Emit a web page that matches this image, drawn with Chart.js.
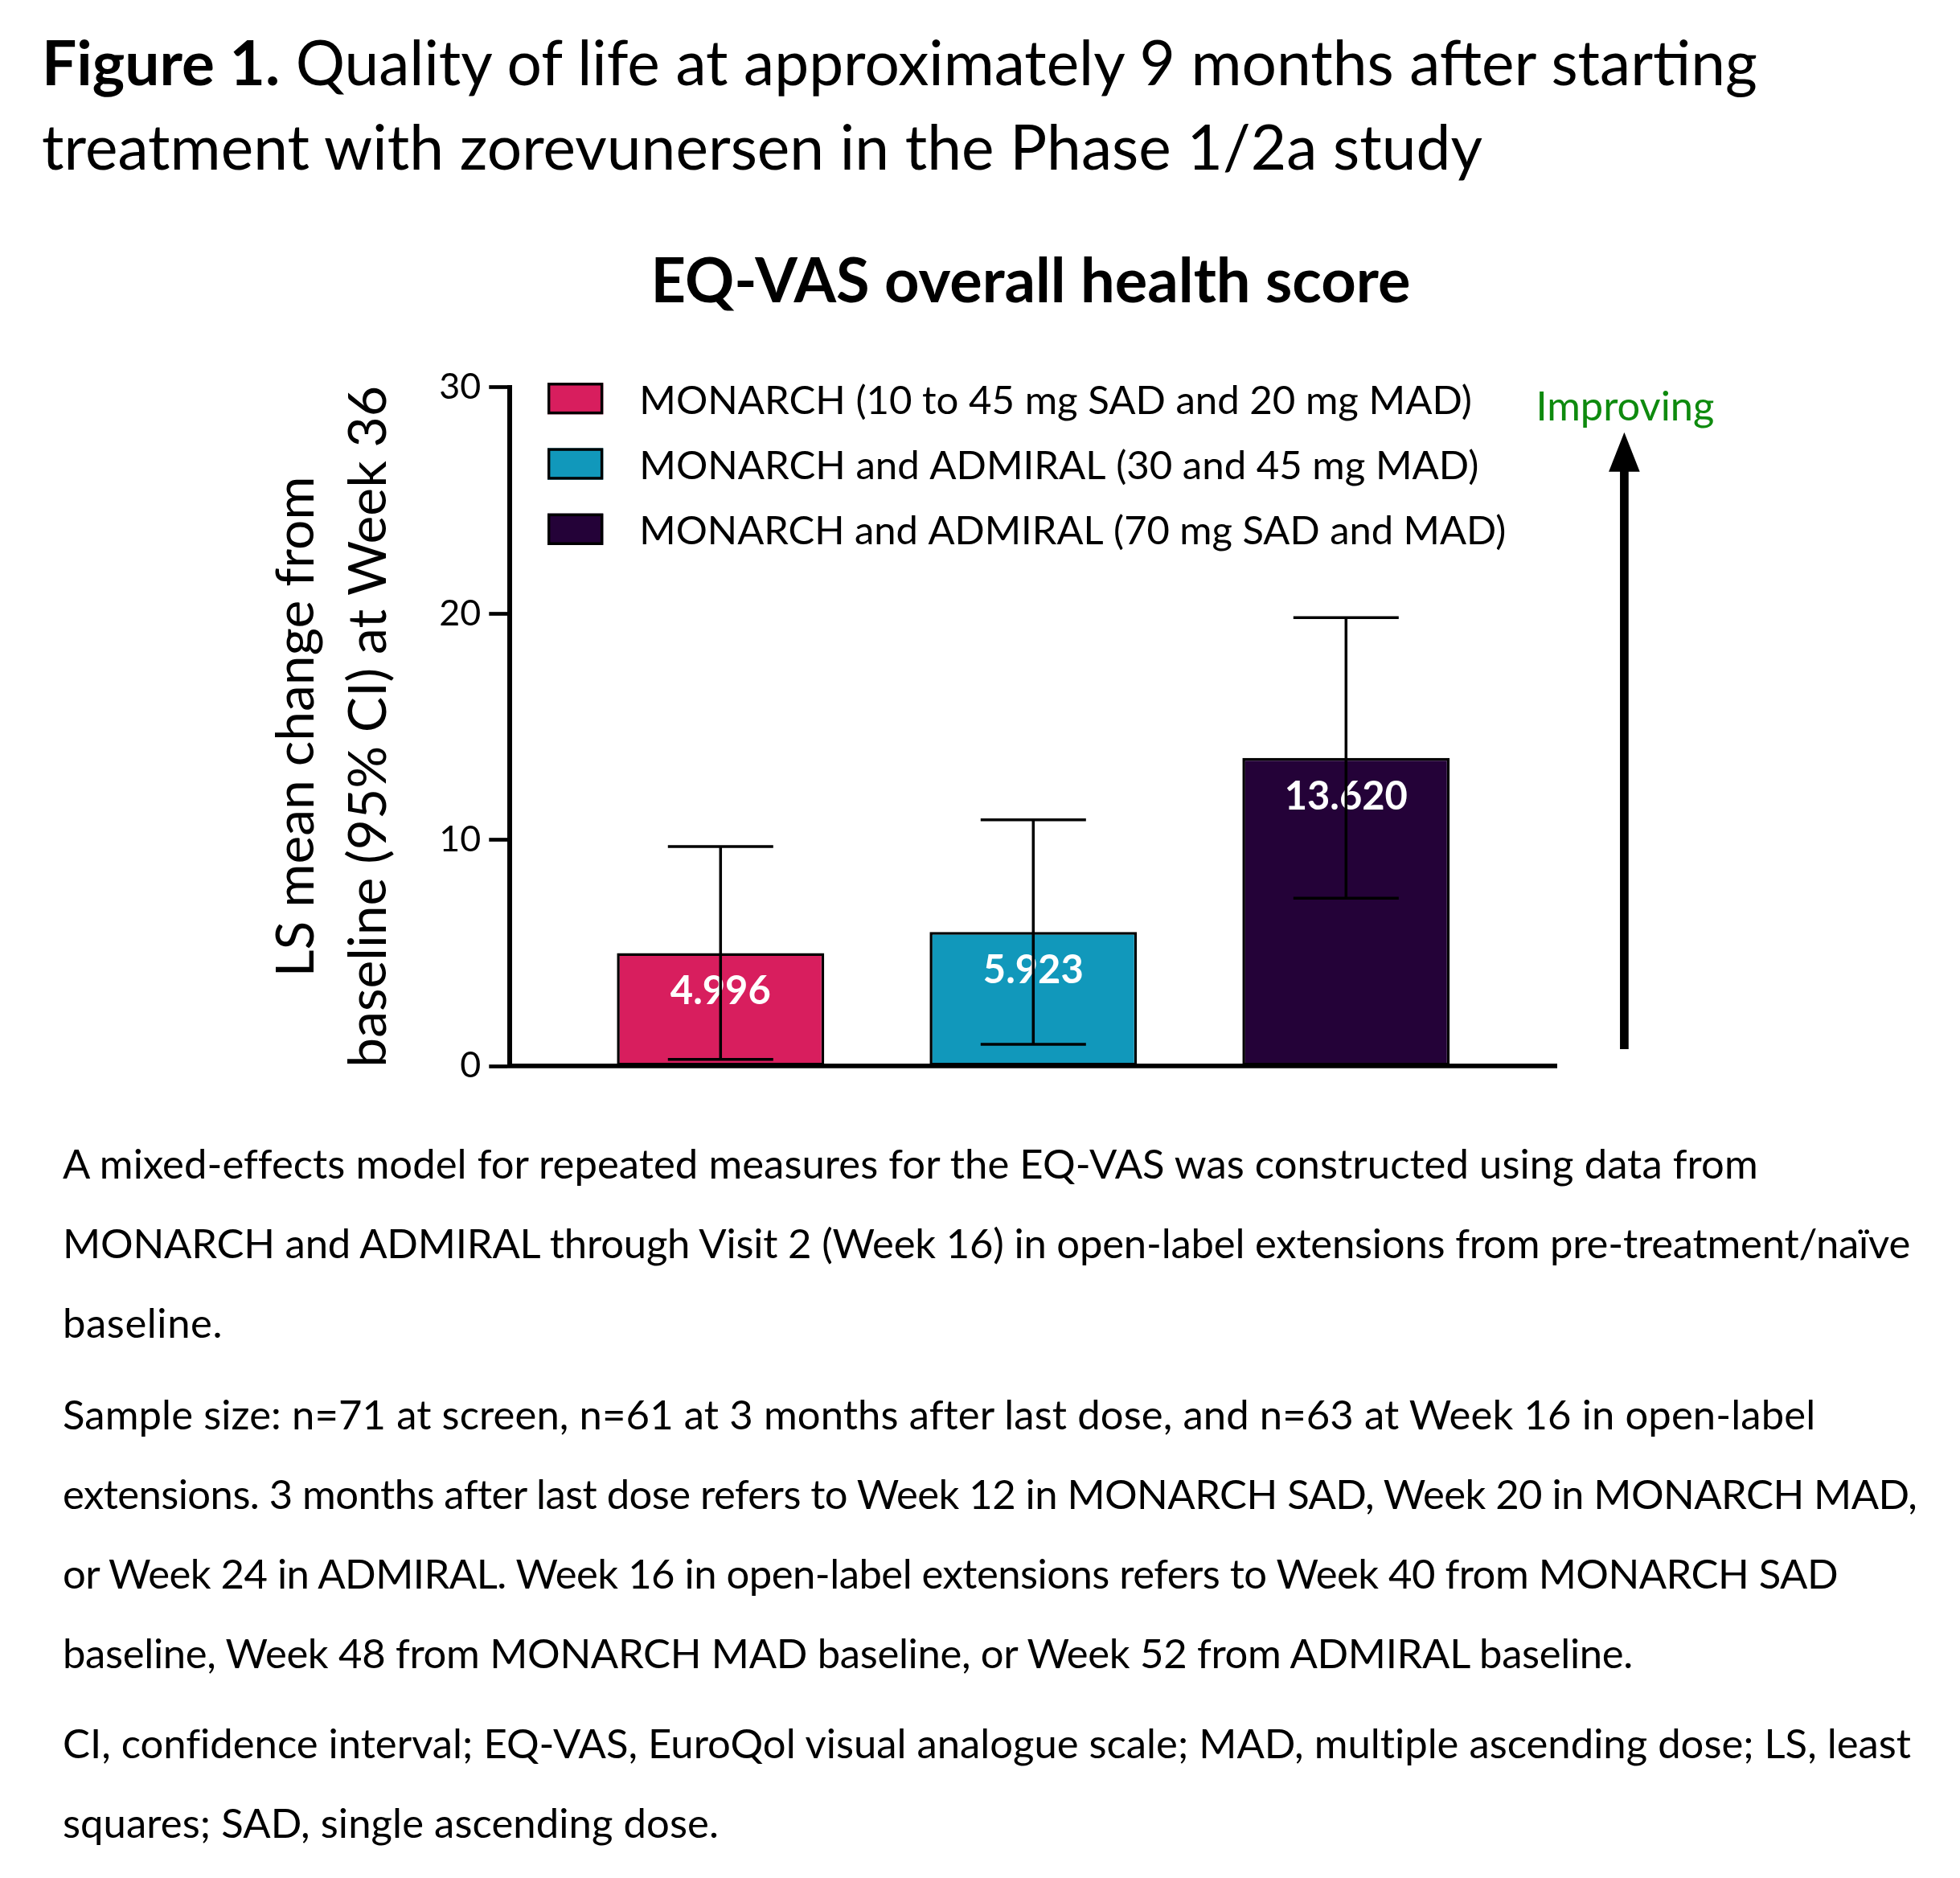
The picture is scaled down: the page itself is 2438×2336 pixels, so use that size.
<!DOCTYPE html>
<html>
<head>
<meta charset="utf-8">
<script src="https://cdn.jsdelivr.net/npm/chart.js@4.4.1/dist/chart.umd.min.js"></script>
<style>
html,body{margin:0;padding:0;background:#fff;}
body{width:2438px;height:2336px;position:relative;overflow:hidden;font-family:Lato,sans-serif;color:#000;}
#c{position:absolute;left:0;top:0;}
.ln{position:absolute;white-space:nowrap;line-height:1;}
</style>
</head>
<body>
<canvas id="c" width="2438" height="2336" style="width:2438px;height:2336px"></canvas>
<script>
// ---------------- data ----------------
const pageTitleBold = 'Figure 1.';
const pageTitleLine1 = ' Quality of life at approximately 9 months after starting';
const pageTitleLine2 = 'treatment with zorevunersen in the Phase 1/2a study';
const chartTitle = 'EQ-VAS overall health score';
const categories = [
  'MONARCH (10 to 45 mg SAD and 20 mg MAD)',
  'MONARCH and ADMIRAL (30 and 45 mg MAD)',
  'MONARCH and ADMIRAL (70 mg SAD and MAD)'
];
const xPositions = [1, 2, 3];
const lsMeans = [4.996, 5.923, 13.620];
const valueLabels = ['4.996', '5.923', '13.620'];
const ciLower = [0.29, 0.96, 7.42];
const ciUpper = [9.70, 10.88, 19.82];
const barColors = ['#D81E5E', '#1198BB', '#240238'];
const yTickValues = [0, 10, 20, 30];
const yAxisTitle = ['LS mean change from', 'baseline (95% CI) at Week 36'];
const directionLabel = 'Improving';
const footnoteP1 = [
  'A mixed-effects model for repeated measures for the EQ-VAS was constructed using data from',
  'MONARCH and ADMIRAL through Visit 2 (Week 16) in open-label extensions from pre-treatment/naïve',
  'baseline.'
];
const footnoteP2 = [
  'Sample size: n=71 at screen, n=61 at 3 months after last dose, and n=63 at Week 16 in open-label',
  'extensions. 3 months after last dose refers to Week 12 in MONARCH SAD, Week 20 in MONARCH MAD,',
  'or Week 24 in ADMIRAL. Week 16 in open-label extensions refers to Week 40 from MONARCH SAD',
  'baseline, Week 48 from MONARCH MAD baseline, or Week 52 from ADMIRAL baseline.'
];
const footnoteP3 = [
  'CI, confidence interval; EQ-VAS, EuroQol visual analogue scale; MAD, multiple ascending dose; LS, least',
  'squares; SAD, single ascending dose.'
];

// ---------------- text helpers ----------------
const FONT = 'Lato';
const mc = document.createElement('canvas').getContext('2d');
function textW(parts, size) {
  let w = 0;
  for (const [t, wt] of parts) { mc.font = wt + ' ' + size + 'px ' + FONT; w += mc.measureText(t).width; }
  return w;
}
function fit(parts, target) { return 100 * target / textW(parts, 100); }
function addLine(parts, x, baseline, size, anchor, targetW) {
  const d = document.createElement('div');
  d.className = 'ln';
  d.style.fontSize = size + 'px';
  d.style.left = x + 'px';
  d.style.top = '0px';
  let n = 0;
  for (const [t, wt] of parts) {
    const s = document.createElement('span');
    s.textContent = t; s.style.fontWeight = wt;
    d.appendChild(s);
    n += t.length;
  }
  const m = document.createElement('span');
  m.style.cssText = 'display:inline-block;width:0;height:0;';
  d.appendChild(m);
  document.body.appendChild(d);
  if (targetW) {
    const w0 = d.getBoundingClientRect().width;
    d.style.letterSpacing = ((targetW - w0) / n) + 'px';
  }
  const by = m.getBoundingClientRect().top;
  d.style.top = (baseline - by) + 'px';
  if (anchor === 'center') {
    const w = d.getBoundingClientRect().width;
    d.style.left = (x - w / 2) + 'px';
  }
}

// page title
const titleSize = fit([[pageTitleBold, 'bold'], [pageTitleLine1, 'normal']], 2141);
addLine([[pageTitleBold, 'bold'], [pageTitleLine1, 'normal']], 52, 106, titleSize);
addLine([[pageTitleLine2, 'normal']], 52, 211, titleSize, null, 1792);
// chart title
const ctSize = fit([[chartTitle, 'bold']], 945);
addLine([[chartTitle, 'bold']], 1282, 376, ctSize, 'center');
// footnotes
const fnSize = fit([[footnoteP1[0], 'normal']], 2107);
const fnBase = [[1466, 1565, 1664], [1778, 1877, 1976, 2075], [2187, 2286]];
const fnWidths = [[2107, 2298, 199], [2179, 2305, 2208, 1953], [2299, 816]];
[footnoteP1, footnoteP2, footnoteP3].forEach((p, pi) => {
  p.forEach((line, li) => addLine([[line, 'normal']], 78, fnBase[pi][li], fnSize, null, fnWidths[pi][li]));
});

// ---------------- chart ----------------
const tickSize = fit([['30', 'normal']], 52);
const yTitleSize = fit([[yAxisTitle[1], 'normal']], 848);
const legendSize = fit([[categories[0], 'normal']], 1036);
const legendWidths = [1036, 1044, 1078];
const valSize = fit([[valueLabels[0], 'bold']], 125);
const impSize = fit([[directionLabel, 'normal']], 222);

const overlay = {
  id: 'overlay',
  afterDatasetsDraw(chart) {
    const {ctx, chartArea: a, scales: {y}} = chart;
    ctx.save();
    chart.data.datasets.forEach((ds, i) => {
      const bar = chart.getDatasetMeta(i).data[0];
      const cx = bar.x;
      // value label
      ctx.fillStyle = '#fff';
      ctx.font = 'bold ' + valSize + 'px ' + FONT;
      ctx.textAlign = 'center';
      ctx.textBaseline = 'alphabetic';
      ctx.fillText(valueLabels[i], cx, bar.y + 64);
      // error bar
      const yl = y.getPixelForValue(ciLower[i]);
      const yu = y.getPixelForValue(ciUpper[i]);
      const half = bar.width * 0.254;
      ctx.strokeStyle = '#000';
      ctx.lineWidth = 3.5;
      ctx.lineCap = 'butt';
      ctx.beginPath();
      ctx.moveTo(cx, yl); ctx.lineTo(cx, yu);
      ctx.moveTo(cx - half, yu); ctx.lineTo(cx + half, yu);
      ctx.moveTo(cx - half, yl); ctx.lineTo(cx + half, yl);
      ctx.stroke();
    });
    // legend
    chart.data.datasets.forEach((ds, i) => {
      const cy = a.top + 14 + 81.3 * i;
      ctx.fillStyle = ds.backgroundColor;
      ctx.fillRect(a.left + 46.7, cy - 19.6, 69.3, 39.2);
      ctx.strokeStyle = '#000';
      ctx.lineWidth = 3.4;
      ctx.strokeRect(a.left + 46.7 + 1.7, cy - 19.6 + 1.7, 69.3 - 3.4, 39.2 - 3.4);
      ctx.fillStyle = '#000';
      ctx.font = legendSize + 'px ' + FONT;
      ctx.textAlign = 'left';
      ctx.textBaseline = 'alphabetic';
      ctx.fillText(ds.label, a.left + 161, cy + 19, legendWidths[i]);
    });
    // direction arrow
    const ax = a.right + 84.3;
    ctx.fillStyle = '#0E8A0E';
    ctx.font = impSize + 'px ' + FONT;
    ctx.textAlign = 'center';
    ctx.fillText(directionLabel, ax + 1, a.top + 41);
    ctx.fillStyle = '#000';
    ctx.fillRect(ax - 5.35, a.top + 100, 10.7, (a.bottom - 21) - (a.top + 100));
    ctx.beginPath();
    ctx.moveTo(ax, a.top + 56);
    ctx.lineTo(ax - 19.3, a.top + 105);
    ctx.lineTo(ax + 19.3, a.top + 105);
    ctx.closePath();
    ctx.fill();
    ctx.restore();
  }
};

new Chart(document.getElementById('c'), {
  type: 'bar',
  data: {
    datasets: categories.map((label, i) => ({
      label: label,
      data: [{x: xPositions[i], y: lsMeans[i]}],
      backgroundColor: barColors[i],
      borderColor: '#000',
      borderWidth: 3.5,
      borderSkipped: false,
      barPercentage: 0.663,
      categoryPercentage: 1
    }))
  },
  options: {
    responsive: false,
    devicePixelRatio: 1,
    animation: false,
    grouped: false,
    layout: {padding: {left: 0, top: 481.7, right: 501.9, bottom: 1010}},
    plugins: {legend: {display: false}, tooltip: {enabled: false}, title: {display: false}},
    scales: {
      x: {
        type: 'linear',
        offset: false,
        min: 0.3265,
        max: 3.673,
        afterBuildTicks(s) { s.ticks = xPositions.map(v => ({value: v})); },
        ticks: {display: false},
        grid: {display: false, drawTicks: false},
        border: {display: true, color: '#000', width: 5.7},
        afterFit(s) { s.height = 0; }
      },
      y: {
        min: 0,
        max: 30,
        afterBuildTicks(s) { s.ticks = yTickValues.map(v => ({value: v})); },
        ticks: {
          color: '#000',
          padding: 10,
          font: {family: FONT, size: tickSize}
        },
        grid: {display: true, drawOnChartArea: false, drawTicks: true, tickLength: 26, tickWidth: 4.7, tickColor: '#000'},
        border: {display: true, color: '#000', width: 6},
        title: {
          display: true,
          text: yAxisTitle,
          color: '#000',
          font: {family: FONT, size: yTitleSize, lineHeight: 90.5 / yTitleSize},
          padding: {top: 398.5 - 0.3225 * yTitleSize - 45.25 - 9, bottom: 0}
        },
        afterFit(s) { s.width = 634.3; }
      }
    }
  },
  plugins: [overlay]
});
</script>
</body>
</html>
